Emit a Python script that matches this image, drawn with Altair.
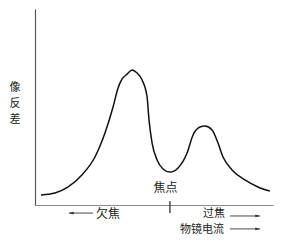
import altair as alt
import pandas as pd

# Curve: objective current (arbitrary units) vs image contrast (arbitrary units)
current = [2.5, 8.4, 13.9, 19.7, 25.2, 29.4, 32.8, 34.9, 36.6, 38.7, 40.8, 42.9, 45.0,
           47.1, 47.9, 49.2, 51.3, 53.8, 56.7, 60.1, 63.9, 66.4, 69.3, 71.4, 74.4, 76.9,
           79.0, 82.8, 88.2, 93.7, 98.7]
contrast = [5.1, 6.1, 9.2, 15.3, 24.5, 36.7, 50.0, 59.7, 64.3, 66.8, 68.9, 67.3, 63.8,
            55.1, 43.4, 31.6, 23.0, 18.4, 16.8, 18.9, 26.5, 35.7, 39.8, 40.3, 38.3, 31.6,
            24.5, 17.9, 12.8, 9.2, 7.1]

# Annotation labels
label_text = ["焦点", "欠焦", "过焦", "物镜电流"]
label_x = [54.8, 30.7, 75.2, 70.2]
label_y = [8.7, -4.6, -4.8, -13.0]
label_size = [12, 12, 11, 11]

# Vertical y-axis title, one character per row
y_title_chars = ["像", "反", "差"]
y_title_x = [-8.4, -8.4, -8.4]
y_title_y = [59.7, 51.5, 43.4]

focus_x = 56.7

# Arrows (start, end, y)
arrow_x1 = [24.4, 81.9, 81.9]
arrow_x2 = [14.3, 94.5, 94.5]
arrow_y = [-4.1, -5.6, -12.2]
arrow_dir = ["left", "right", "right"]

curve_df = pd.DataFrame({"x": current, "y": contrast})
lab_df = pd.DataFrame({"x": label_x, "y": label_y, "t": label_text, "s": label_size})
yt_df = pd.DataFrame({"x": y_title_x, "y": y_title_y, "t": y_title_chars})
arr_df = pd.DataFrame({"x": arrow_x1, "x2": arrow_x2, "y": arrow_y, "d": arrow_dir})
arr_df["hx"] = [a + (0.9 if d == "left" else -0.9) for a, d in zip(arrow_x2, arrow_dir)]

xs = alt.Scale(domain=[0, 100], nice=False, zero=False)
ys = alt.Scale(domain=[0, 100], nice=False, zero=False)
FONT = "Noto Sans CJK SC"

base_axis_x = alt.Axis(labels=False, ticks=False, grid=False, title=None,
                       domainColor="#8a8a8a", domainWidth=1.2)
base_axis_y = alt.Axis(labels=False, ticks=False, grid=False, title=None,
                       domainColor="#555555", domainWidth=1.2)

curve = alt.Chart(curve_df).mark_line(
    color="#111111", strokeWidth=1.5, interpolate="monotone", clip=False
).encode(
    x=alt.X("x:Q", scale=xs, axis=base_axis_x),
    y=alt.Y("y:Q", scale=ys, axis=base_axis_y),
)

tick = alt.Chart(pd.DataFrame({"x": [focus_x], "y": [2.0], "y2": [-4.1]})).mark_rule(
    color="#222222", strokeWidth=1.2, clip=False
).encode(x=alt.X("x:Q", scale=xs), y=alt.Y("y:Q", scale=ys), y2="y2:Q")

labels = alt.Chart(lab_df).mark_text(
    font=FONT, color="#222222", clip=False
).encode(x=alt.X("x:Q", scale=xs), y=alt.Y("y:Q", scale=ys), text="t:N",
         size=alt.Size("s:Q", scale=None, legend=None))

ytitle = alt.Chart(yt_df).mark_text(
    font=FONT, fontSize=11, color="#222222", clip=False
).encode(x=alt.X("x:Q", scale=xs), y=alt.Y("y:Q", scale=ys), text="t:N")

arrows = alt.Chart(arr_df).mark_rule(color="#333333", strokeWidth=0.9, clip=False).encode(
    x=alt.X("x:Q", scale=xs), x2="x2:Q", y=alt.Y("y:Q", scale=ys)
)

heads_r = alt.Chart(arr_df[arr_df.d == "right"]).mark_point(
    shape="M1,0L-1,-0.55L-1,0.55Z", filled=True, color="#333333", size=25, opacity=1, clip=False
).encode(x=alt.X("hx:Q", scale=xs), y=alt.Y("y:Q", scale=ys))

heads_l = alt.Chart(arr_df[arr_df.d == "left"]).mark_point(
    shape="M-1,0L1,-0.55L1,0.55Z", filled=True, color="#333333", size=25, opacity=1, clip=False
).encode(x=alt.X("hx:Q", scale=xs), y=alt.Y("y:Q", scale=ys))

chart = alt.layer(curve, tick, arrows, heads_r, heads_l, labels, ytitle).properties(
    width=238, height=196,
    padding={"left": 35, "top": 9, "right": 8, "bottom": 46},
    autosize=alt.AutoSizeParams(type="none"),
    background="white",
).configure_view(stroke=None)

chart.save("out.html", embed_options={"renderer": "svg", "actions": False})
